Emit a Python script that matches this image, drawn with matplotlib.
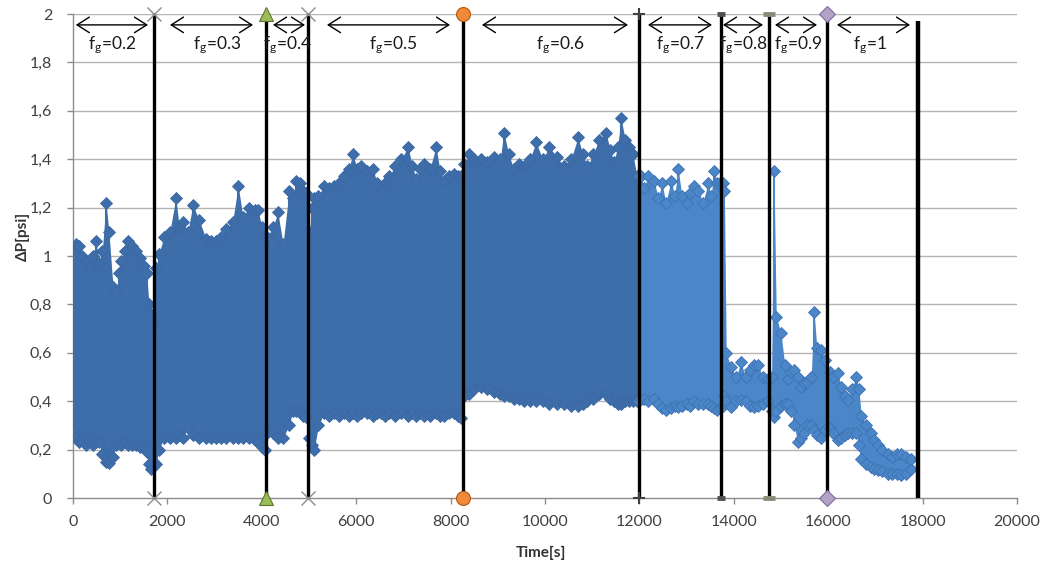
import matplotlib
matplotlib.use("Agg")
import matplotlib.pyplot as plt
import numpy as np

plt.rcParams['font.family'] = ['Lato', 'DejaVu Sans']
plt.rcParams['mathtext.default'] = 'regular'

# ---------------- data ----------------
# Time samples [s] and the lower / upper envelope of the measured ΔP [psi]
time_s = [0, 60, 130, 200, 275, 350, 420, 490, 550, 620, 700, 760, 850, 910, 975, 1020, 1100, 1165, 1250, 1335,
          1420, 1500, 1560, 1610, 1660, 1700,
          1760, 1820, 1930, 2050, 2180, 2250, 2330, 2430, 2540, 2670, 2820, 2930, 3030, 3130, 3240, 3380, 3500,
          3600, 3730, 3850, 3920, 4000, 4060,
          4120, 4240, 4340, 4450, 4580, 4660, 4720, 4800, 4870, 4940,
          5010, 5060, 5110, 5200, 5320, 5430, 5530, 5640, 5740, 5840, 5930, 6020, 6100, 6230, 6360, 6440, 6525,
          6600, 6700, 6820, 6950, 7100, 7190, 7270, 7350, 7440, 7560, 7690, 7780, 7860, 7960, 8070, 8150, 8230,
          8290, 8400, 8500, 8640, 8780, 8920, 9050, 9130, 9230, 9340, 9450, 9550, 9680, 9810, 9950, 10090, 10250,
          10400, 10550, 10700, 10800, 10900, 11020, 11140, 11290, 11380, 11460, 11540, 11610, 11700, 11780, 11860,
          11950]
dp_high = [1.03, 1.05, 1.04, 1.00, 0.98, 0.95, 1.00, 1.06, 0.97, 1.02, 1.22, 1.10, 0.87, 0.85, 0.93, 0.98, 1.02,
           1.06, 1.04, 1.02, 0.99, 0.96, 0.93, 0.80, 0.76, 0.72,
           0.95, 1.01, 1.08, 1.10, 1.24, 1.12, 1.14, 1.10, 1.21, 1.15, 1.07, 1.06, 1.06, 1.08, 1.11, 1.14, 1.29,
           1.16, 1.20, 1.19, 1.19, 1.12, 1.08,
           1.08, 1.12, 1.18, 1.05, 1.27, 1.24, 1.31, 1.30, 1.27, 1.26,
           1.10, 1.20, 1.24, 1.25, 1.29, 1.28, 1.29, 1.30, 1.33, 1.36, 1.42, 1.36, 1.37, 1.35, 1.36, 1.30, 1.27,
           1.30, 1.33, 1.37, 1.40, 1.45, 1.37, 1.32, 1.36, 1.38, 1.36, 1.45, 1.35, 1.31, 1.33, 1.34, 1.33, 1.33,
           1.38, 1.42, 1.40, 1.40, 1.39, 1.41, 1.40, 1.51, 1.42, 1.36, 1.38, 1.37, 1.40, 1.47, 1.40, 1.45, 1.41,
           1.37, 1.40, 1.49, 1.42, 1.37, 1.42, 1.48, 1.51, 1.44, 1.39, 1.45, 1.57, 1.48, 1.45, 1.42, 1.33]
dp_low = [0.28, 0.25, 0.23, 0.24, 0.22, 0.24, 0.22, 0.23, 0.23, 0.18, 0.15, 0.145, 0.17, 0.22, 0.23, 0.22, 0.23,
          0.22, 0.22, 0.22, 0.21, 0.21, 0.19, 0.14, 0.12, 0.13,
          0.14, 0.20, 0.25, 0.25, 0.25, 0.26, 0.25, 0.29, 0.26, 0.25, 0.25, 0.25, 0.25, 0.25, 0.25, 0.25, 0.25,
          0.25, 0.25, 0.24, 0.23, 0.21, 0.20,
          0.27, 0.27, 0.25, 0.25, 0.30, 0.36, 0.36, 0.36, 0.34, 0.335,
          0.25, 0.22, 0.20, 0.30, 0.35, 0.34, 0.35, 0.34, 0.35, 0.34, 0.35, 0.34, 0.35, 0.35, 0.34, 0.35, 0.35,
          0.34, 0.35, 0.34, 0.35, 0.34, 0.35, 0.34, 0.35, 0.34, 0.34, 0.35, 0.34, 0.34, 0.35, 0.35, 0.34, 0.33,
          0.42, 0.43, 0.45, 0.46, 0.45, 0.44, 0.43, 0.42, 0.42, 0.41, 0.41, 0.40, 0.40, 0.40, 0.40, 0.39, 0.39,
          0.39, 0.38, 0.38, 0.39, 0.40, 0.41, 0.43, 0.43, 0.41, 0.40, 0.39, 0.39, 0.40, 0.40, 0.40, 0.40]

# second part of the record (after 12000 s)
time_late_s = [12000, 12030, 12100, 12180, 12310, 12400, 12480, 12560, 12670, 12750, 12820, 12900, 13000, 13080,
               13160, 13250, 13350, 13450, 13520, 13580, 13650, 13700,
               13770, 13800, 13840, 13940, 14050, 14150, 14250, 14350, 14430, 14510, 14620, 14720,
               14800, 14850, 14900, 15000, 15080, 15150, 15220, 15275, 15360, 15420, 15490, 15560, 15640, 15700,
               15760, 15850, 15930,
               16030, 16100, 16200, 16280, 16350, 16420, 16500, 16590, 16650, 16700, 16800, 16900, 16970, 17050,
               17150, 17260, 17350, 17450, 17540, 17650, 17750]
dp_high_late = [1.33, 1.33, 1.28, 1.33, 1.31, 1.24, 1.30, 1.22, 1.31, 1.25, 1.36, 1.25, 1.22, 1.26, 1.29, 1.27,
                1.22, 1.30, 1.25, 1.35, 1.30, 1.30,
                1.30, 1.27, 0.60, 0.54, 0.50, 0.56, 0.50, 0.53, 0.55, 0.55, 0.50, 0.49,
                0.50, 1.35, 0.75, 0.68, 0.55, 0.49, 0.52, 0.53, 0.50, 0.46, 0.475, 0.48, 0.50, 0.77, 0.62, 0.61,
                0.57,
                0.52, 0.50, 0.515, 0.46, 0.42, 0.405, 0.45, 0.50, 0.45, 0.34, 0.30, 0.27, 0.24, 0.22, 0.20, 0.18,
                0.17, 0.18, 0.18, 0.17, 0.16]
dp_low_late = [0.40, 0.41, 0.41, 0.40, 0.41, 0.39, 0.37, 0.365, 0.37, 0.38, 0.375, 0.38, 0.39, 0.38, 0.40, 0.39,
               0.39, 0.39, 0.38, 0.37, 0.365, 0.37,
               0.38, 0.42, 0.40, 0.375, 0.40, 0.405, 0.40, 0.38, 0.375, 0.38, 0.39, 0.40,
               0.36, 0.335, 0.36, 0.38, 0.39, 0.39, 0.36, 0.30, 0.23, 0.25, 0.27, 0.30, 0.30, 0.28, 0.26, 0.25,
               0.28,
               0.29, 0.27, 0.24, 0.25, 0.26, 0.27, 0.27, 0.27, 0.22, 0.16, 0.14, 0.13, 0.12, 0.115, 0.11, 0.10,
               0.10, 0.10, 0.095, 0.10, 0.12]

# gas-fraction boundaries
boundary_t = [1720, 4090, 4980, 8260, 12000, 13730, 14750, 15980, 17900]
boundary_top = [2, 2, 2, 2, 2, 2, 2, 2, 1.97]

# arrows and labels
arrow_start = [60, 2055, 4237, 5381, 8665, 12182, 13771, 14873, 16186]
arrow_end = [1589, 3814, 4915, 7987, 11758, 13538, 14619, 15763, 17733]
label_x = [826, 3051, 4534, 6780, 10318, 12860, 14195, 15360, 16886]
fg_values = ['0.2', '0.3', '0.4', '0.5', '0.6', '0.7', '0.8', '0.9', '1']

x_ticks = [0, 2000, 4000, 6000, 8000, 10000, 12000, 14000, 16000, 18000, 20000]
y_ticks = [0, 0.2, 0.4, 0.6, 0.8, 1.0, 1.2, 1.4, 1.6, 1.8, 2.0]
y_ticklabels = ['0', '0,2', '0,4', '0,6', '0,8', '1', '1,2', '1,4', '1,6', '1,8', '2']

# ---------------- figure ----------------
W, H = 1040, 568
fig = plt.figure(figsize=(W / 100, H / 100), dpi=100)
ax = fig.add_axes([73 / W, 1 - 498 / H, 944 / W, 484 / H])
ax.set_xlim(0, 20000)
ax.set_ylim(0, 2)

grid_c = '#B4B4B4'
for yv in y_ticks[1:]:
    ax.axhline(yv, color=grid_c, lw=1.0, zorder=0)

c1, e1 = '#3E6EAA', '#3A68A2'
c2, e2 = '#4A86C8', '#3D72B3'

def draw_series(t, lo, hi, c, e):
    ax.fill_between(t, lo, hi, color=c, lw=0, zorder=2)
    ax.vlines(t, lo, hi, color=c, lw=1.5, zorder=2)
    ax.plot(t, lo, ls='none', marker='D', ms=6, mfc=c, mec=e, mew=0.6, zorder=3)
    ax.plot(t, hi, ls='none', marker='D', ms=6, mfc=c, mec=e, mew=0.6, zorder=3)

draw_series(time_s, dp_low, dp_high, c1, e1)
draw_series(time_late_s, dp_low_late, dp_high_late, c2, e2)

# boundary lines with end markers
marker_specs = [
    dict(marker='x', ms=10, mfc='#8C8C8C', mec='#8C8C8C', mew=1.0),
    dict(marker='^', ms=10, mfc='#9BBB59', mec='#5E7530', mew=0.8),
    dict(marker='x', ms=10, mfc='#8C8C8C', mec='#8C8C8C', mew=1.0),
    dict(marker='o', ms=10, mfc='#F08A3A', mec='#B65708', mew=0.8),
    dict(marker='+', ms=8, mfc='#404040', mec='#404040', mew=1.5),
    dict(marker='_', ms=6, mfc='#505050', mec='#505050', mew=3.5),
    dict(marker='_', ms=9, mfc='#8A8A78', mec='#8A8A78', mew=3.5),
    dict(marker='D', ms=8, mfc='#B3A2C7', mec='#7F6A9E', mew=0.8),
    dict(marker='None'),
]
for i, (bt, top) in enumerate(zip(boundary_t, boundary_top)):
    lw = 3.2 if i == len(boundary_t) - 1 else 2.4
    ax.plot([bt, bt], [0, top], color='black', lw=lw, zorder=5, solid_capstyle='butt', clip_on=False)
    ax.plot([bt, bt], [0, top], ls='none', zorder=6, clip_on=False, **marker_specs[i])

# arrows and labels
arrow_y = 1.955
label_y = 1.87
for s, e_, lx, fv in zip(arrow_start, arrow_end, label_x, fg_values):
    ax.annotate('', xy=(e_, arrow_y), xytext=(s, arrow_y),
                arrowprops=dict(arrowstyle='<->,head_length=0.55,head_width=0.35', color='black', lw=1.0,
                                shrinkA=0, shrinkB=0, mutation_scale=16), zorder=7)
    ax.text(lx, label_y, 'f$_g$=' + fv, ha='center', va='center', fontsize=12.5, color='#1A1A1A', zorder=7)

# axes styling
for sp in ['top', 'right']:
    ax.spines[sp].set_visible(False)
for sp in ['left', 'bottom']:
    ax.spines[sp].set_color('#8C8C8C')
    ax.spines[sp].set_linewidth(1.0)
    ax.spines[sp].set_zorder(1)

ax.set_xticks(x_ticks)
ax.set_xticklabels([str(v) for v in x_ticks])
ax.set_yticks(y_ticks)
ax.set_yticklabels(y_ticklabels)
ax.tick_params(axis='both', direction='out', length=4, width=1, color='#8C8C8C', labelsize=11.5,
               labelcolor='#404040')
ax.tick_params(axis='x', pad=8)
ax.tick_params(axis='y', pad=11)

ax.set_xlabel('Time[s]', fontsize=11, fontweight='bold', color='#333333', va='top')
ax.xaxis.set_label_coords(0.496, -0.098)
ax.set_ylabel('ΔP[psi]', fontsize=11, fontweight='bold', color='#333333')
ax.yaxis.set_label_coords(-0.046, 0.54)

fig.savefig('out.png', dpi=100)
